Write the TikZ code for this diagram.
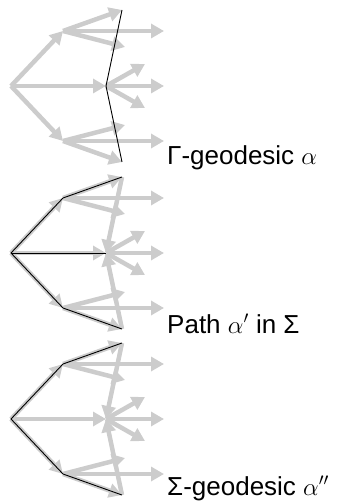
\documentclass[tikz,border=0pt]{standalone}
\usepackage{fontspec}
\setmainfont{Liberation Sans}
\usetikzlibrary{arrows.meta}
\definecolor{treegray}{HTML}{CCCCCC}
\tikzset{
    edge/.style={-{Triangle[length=13pt, width=14pt]}, line width=4.5pt, draw=treegray},
    geoline/.style={draw=black, line width=0.9pt},
    caption/.style={anchor=base west, inner sep=0pt, font=\fontsize{26}{30}\selectfont}
}

\begin{document}
\begin{tikzpicture}[x=1pt, y=-1pt]
    \useasboundingbox (0,0) rectangle (357,502);
    % the same tree in all three panels
    \foreach \p/\dy in {1/0, 2/167, 3/333} {
        \begin{scope}[shift={(0,\dy)}]
            \coordinate (r\p) at (11,86);
            \coordinate (u\p) at (63,31);
            \coordinate (m\p) at (106,86);
            \coordinate (l\p) at (63,141);
            \coordinate (ut\p) at (122,10);
            \coordinate (ua\p) at (164,31);
            \coordinate (ub\p) at (125,47);
            \coordinate (ma\p) at (145,64);
            \coordinate (mb\p) at (164,86);
            \coordinate (mc\p) at (145,108);
            \coordinate (la\p) at (125,125);
            \coordinate (lb\p) at (164,141);
            \coordinate (lc\p) at (122,162);
            \draw[edge] (r\p) -- (u\p);
            \draw[edge] (r\p) -- (m\p);
            \draw[edge] (r\p) -- (l\p);
            \draw[edge] (u\p) -- (ut\p);
            \draw[edge] (u\p) -- (ua\p);
            \draw[edge] (u\p) -- (ub\p);
            \draw[edge] (m\p) -- (ma\p);
            \draw[edge] (m\p) -- (mb\p);
            \draw[edge] (m\p) -- (mc\p);
            \draw[edge] (l\p) -- (la\p);
            \draw[edge] (l\p) -- (lb\p);
            \draw[edge] (l\p) -- (lc\p);
        \end{scope}
    }
    % Sigma edges
    \draw[edge] (ut2) -- (m2);
    \draw[edge] (lc2) -- (m2);
    \draw[edge] (ut3) -- (m3);
    \draw[edge] (lc3) -- (m3);

    % the paths
    \draw[geoline] (ut1) -- (m1) -- (lc1);
    \draw[geoline] (ut2) -- (u2) -- (r2) -- (l2) -- (lc2);
    \draw[geoline] (r2) -- (m2);
    \draw[geoline] (ut3) -- (u3) -- (r3) -- (l3) -- (lc3);

    \node[caption] (cap1) at (167,165) {Γ-geodesic $\alpha$};
    \node[caption] (cap2) at (167,333) {Path $\alpha'$ in Σ};
    \node[caption] (cap3) at (167,495) {Σ-geodesic $\alpha''$};
\end{tikzpicture}
\end{document}
